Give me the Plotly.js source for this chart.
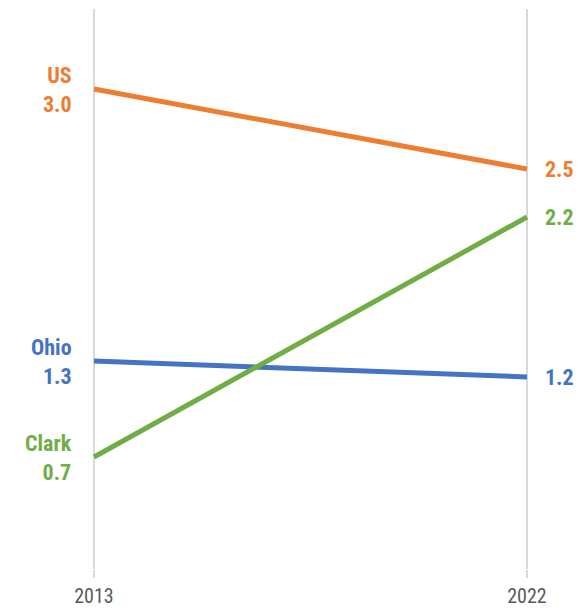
<!DOCTYPE html>
<html><head><meta charset="utf-8">
<script src="https://cdn.plot.ly/plotly-3.0.1.min.js"></script>
<style>body{margin:0;padding:0;background:#fff}</style>
</head><body>
<div id="chart" style="width:581px;height:610px"></div>
<script>
const years = [2013, 2022];
const seriesNames = ["US", "Ohio", "Clark"];
const usValues = [3.0, 2.5];
const ohioValues = [1.3, 1.2];
const clarkValues = [0.7, 2.2];
const colors = ["#ED7D31", "#4472C4", "#70AD47"];
const allValues = [usValues, ohioValues, clarkValues];

const FONT = "'Liberation Sans Narrow', 'Arial Narrow', 'Roboto Condensed', 'Liberation Sans', Arial, sans-serif";

const traces = seriesNames.map((n, i) => ({
  x: years, y: allValues[i], type: 'scatter', mode: 'lines', name: n,
  line: {color: colors[i], width: 5}, hoverinfo: 'skip'
}));

const annotations = [];
seriesNames.forEach((n, i) => {
  annotations.push({
    x: years[0], y: allValues[i][0], xref: 'x', yref: 'y',
    text: n + '<br>' + allValues[i][0].toFixed(1),
    showarrow: false, xanchor: 'right', yanchor: 'bottom', align: 'right', xshift: -20, yshift: -30,
    font: {family: FONT, size: 22, color: colors[i], weight: 'bold'}
  });
  annotations.push({
    x: years[1], y: allValues[i][1], xref: 'x', yref: 'y',
    text: allValues[i][1].toFixed(1),
    showarrow: false, xanchor: 'left', yanchor: 'middle', xshift: 16,
    font: {family: FONT, size: 22, color: colors[i], weight: 'bold'}
  });
});

const layout = {
  width: 581, height: 610,
  margin: {l: 80, r: 40, t: 9, b: 41},
  paper_bgcolor: '#fff', plot_bgcolor: '#fff',
  showlegend: false,
  xaxis: {
    range: [2012.709, 2022.291], tickvals: years, ticktext: years.map(String),
    showgrid: true, gridcolor: '#d9d9d9', gridwidth: 2,
    ticks: 'outside', ticklen: 8, tickcolor: '#d9d9d9', tickwidth: 2,
    ticklabelstandoff: 1,
    zeroline: false, showline: false,
    tickfont: {family: FONT, size: 20, color: '#595959'}
  },
  yaxis: {range: [0, 3.5], showgrid: false, zeroline: false, showticklabels: false, showline: false},
  annotations: annotations
};

Plotly.newPlot('chart', traces, layout, {staticPlot: true, displayModeBar: false});
</script>
</body></html>
